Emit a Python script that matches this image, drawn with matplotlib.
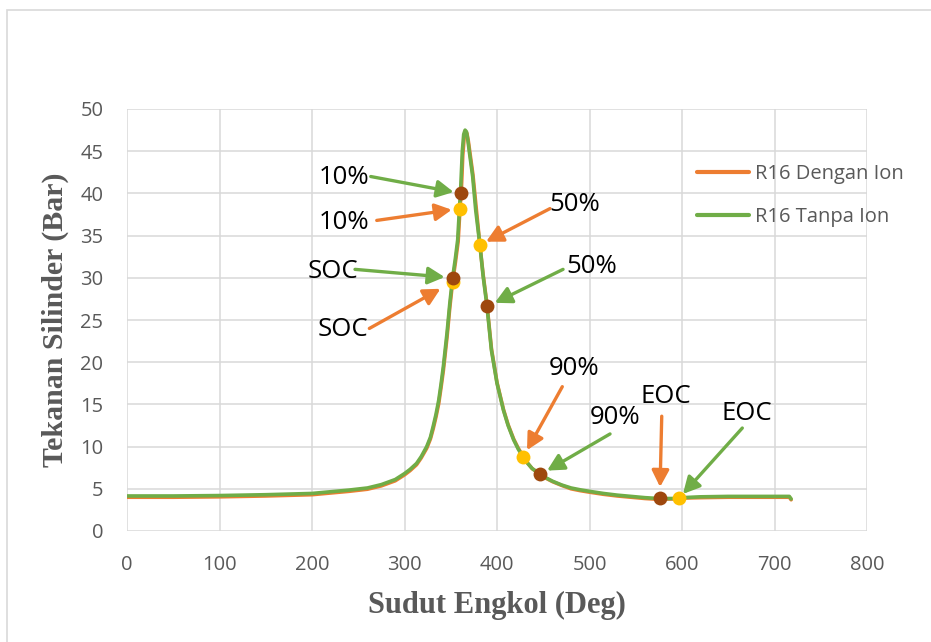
"""Tekanan silinder vs sudut engkol: R16 dengan / tanpa ion, dengan titik SOC-EOC."""

import matplotlib

matplotlib.use("Agg")
import matplotlib.pyplot as plt
from matplotlib.patches import Rectangle

# --- data ---
angle_tanpa = [0, 50, 100, 150, 200, 240, 260, 275, 290, 300, 306, 313, 318, 324, 328,
               331, 334, 337, 339.5, 342, 346, 349, 352, 355, 357.5, 359.3, 360.7, 362.5,
               364, 365.5, 367, 368.5, 370, 373.7, 377, 381.5, 385, 389, 394, 400, 407,
               412, 418, 423, 428, 433, 438, 447, 453, 460, 470, 480, 490, 500, 515, 530,
               560, 575, 590, 600, 620, 650, 700, 716, 718]
p_tanpa = [4.15, 4.15, 4.2, 4.3, 4.45, 4.85, 5.1, 5.5, 6.1, 6.8, 7.3, 8.0, 8.8, 10.0, 11.1,
           12.4, 13.8, 15.5, 17.4, 19.5, 23.5, 27.0, 30.0, 32.3, 34.5, 38.0, 40.5, 45.0,
           47.0, 47.5, 47.3, 46.3, 45.0, 42.0, 38.0, 33.9, 30.2, 26.8, 21.4, 17.5, 14.3,
           12.5, 10.8, 9.7, 8.8, 8.05, 7.4, 6.7, 6.3, 5.9, 5.45, 5.1, 4.88, 4.7, 4.45, 4.25,
           3.95, 3.85, 3.85, 3.95, 4.05, 4.1, 4.1, 4.1, 3.8]

angle_dengan = [0, 50, 100, 150, 200, 240, 260, 275, 290, 300, 306, 313, 318, 324, 328,
                331, 334, 337, 339.5, 342, 346, 349, 352, 355, 358, 360, 361.5, 363,
                364.5, 366, 367.5, 369, 370.5, 374, 377.5, 381.5, 385, 389, 394, 400, 407,
                412, 418, 423, 428.5, 433, 438, 447, 453, 460, 470, 480, 490, 500, 515, 530,
                560, 575, 590, 600, 620, 650, 700, 716, 718]
p_dengan = [4.0, 4.0, 4.05, 4.15, 4.3, 4.7, 4.95, 5.35, 5.95, 6.65, 7.15, 7.85, 8.65, 9.8, 10.9,
            12.1, 13.5, 15.1, 17.0, 19.0, 23.0, 26.5, 29.5, 31.8, 34.3, 38.2, 40.5, 44.5,
            46.6, 47.3, 47.1, 46.2, 45.0, 42.2, 38.3, 33.9, 30.4, 27.0, 21.6, 17.6, 14.4,
            12.6, 10.9, 9.8, 8.8, 8.05, 7.4, 6.7, 6.25, 5.85, 5.4, 5.0, 4.78, 4.6, 4.35, 4.15,
            3.85, 3.75, 3.8, 3.9, 3.95, 4.0, 4.0, 4.0, 3.7]

events = ["SOC", "10%", "50%", "90%", "EOC"]
dengan_evt_angle = [352, 360, 381.5, 428.5, 597]
dengan_evt_p = [29.5, 38.2, 33.9, 8.8, 3.9]
tanpa_evt_angle = [352.4, 361, 389.5, 447, 576]
tanpa_evt_p = [30.0, 40.0, 26.6, 6.7, 3.9]

x_ticks = list(range(0, 801, 100))
y_ticks = list(range(0, 51, 5))

ORANGE = "#ED7D31"
GREEN = "#70AD47"
YELLOW = "#FFC000"
BROWN = "#9E480E"
GRID = "#D9D9D9"
TXT = "#595959"
TICK_FONT = "Open Sans"
AXIS_FONT = "Liberation Serif"

# (teks, warna, posisi teks (deg, bar), awal panah (deg, bar), seri target, indeks event, shrink pt)
annotations = [
    ("10%", GREEN, (235.0, 41.9), (263.5, 42.0), "tanpa", 1, 5.3),
    ("10%", ORANGE, (235.0, 36.5), (270.0, 36.8), "dengan", 1, 6.0),
    ("SOC", GREEN, (222.4, 30.7), (246.5, 31.0), "tanpa", 0, 6.0),
    ("SOC", ORANGE, (233.8, 23.9), (262.0, 24.0), "dengan", 0, 10.0),
    ("50%", ORANGE, (484.3, 38.7), (457.3, 38.2), "dengan", 2, 5.0),
    ("50%", GREEN, (502.7, 31.3), (471.4, 31.0), "tanpa", 2, 6.0),
    ("90%", ORANGE, (483.2, 19.3), (470.6, 17.1), "dengan", 3, 5.4),
    ("90%", GREEN, (527.6, 13.5), (522.2, 11.5), "tanpa", 3, 5.5),
    ("EOC", ORANGE, (582.4, 15.9), (578.1, 13.6), "tanpa", 4, 8.0),
    ("EOC", GREEN, (669.9, 13.9), (665.2, 12.2), "dengan", 4, 4.0),
]


def main() -> None:
    fig = plt.figure(figsize=(9.31, 6.42), dpi=100)
    ax = fig.add_axes([127 / 931, 111 / 642, 740 / 931, 422 / 642])

    # bingkai luar chart
    fig.patches.append(
        Rectangle((7 / 931, -0.05), 1.1, 1.05 - 10 / 642, transform=fig.transFigure,
                  fill=False, edgecolor=GRID, lw=1.2)
    )

    ax.plot(angle_dengan, p_dengan, color=ORANGE, lw=2.6, label="R16 Dengan Ion",
            zorder=2, solid_capstyle="round", solid_joinstyle="round")
    ax.plot(angle_tanpa, p_tanpa, color=GREEN, lw=2.6, label="R16 Tanpa Ion",
            zorder=3, solid_capstyle="round", solid_joinstyle="round")

    ax.plot(dengan_evt_angle, dengan_evt_p, "o", color=YELLOW, ms=10, mec="none", zorder=4)
    ax.plot(tanpa_evt_angle, tanpa_evt_p, "o", color=BROWN, ms=10, mec="none", zorder=5)

    targets = {
        "dengan": list(zip(dengan_evt_angle, dengan_evt_p)),
        "tanpa": list(zip(tanpa_evt_angle, tanpa_evt_p)),
    }
    for label, color, txt_pos, start, series, idx, shrink in annotations:
        ax.annotate(
            "",
            xy=targets[series][idx],
            xytext=start,
            arrowprops=dict(
                arrowstyle="-|>,head_length=0.5,head_width=0.26",
                mutation_scale=20,
                color=color,
                lw=2.4,
                shrinkA=0,
                shrinkB=shrink,
            ),
            zorder=6,
        )
        ax.text(*txt_pos, label, fontsize=18.5, family=TICK_FONT, color="black",
                ha="center", va="center", zorder=7)

    ax.set_xlim(0, 800)
    ax.set_ylim(0, 50)
    ax.set_xticks(x_ticks)
    ax.set_yticks(y_ticks)
    ax.grid(True, color=GRID, lw=1.1)
    ax.set_axisbelow(True)
    for s in ax.spines.values():
        s.set_visible(False)
    ax.tick_params(length=0, labelsize=14.5, labelcolor=TXT)
    ax.tick_params(axis="x", pad=17)
    ax.tick_params(axis="y", pad=17)
    for lab in ax.get_xticklabels() + ax.get_yticklabels():
        lab.set_family(TICK_FONT)

    ax.set_xlabel("Sudut Engkol (Deg)", family=AXIS_FONT, fontweight="bold",
                  fontsize=22, color=TXT, labelpad=12)
    ax.set_ylabel("Tekanan Silinder (Bar)", family=AXIS_FONT, fontweight="bold",
                  fontsize=21.5, color=TXT, labelpad=8)

    leg = fig.legend(
        loc="center left",
        bbox_to_anchor=(697 / 931, 1 - 195.5 / 642),
        frameon=False,
        borderpad=0,
        borderaxespad=0,
        handlelength=2.6,
        handletextpad=0.3,
        labelspacing=1.15,
        prop={"family": TICK_FONT, "size": 14.5},
    )
    for t in leg.get_texts():
        t.set_color(TXT)
    for h in leg.get_lines():
        h.set_linewidth(3)

    fig.savefig("out.png", dpi=100)
    plt.close(fig)


if __name__ == "__main__":
    main()
